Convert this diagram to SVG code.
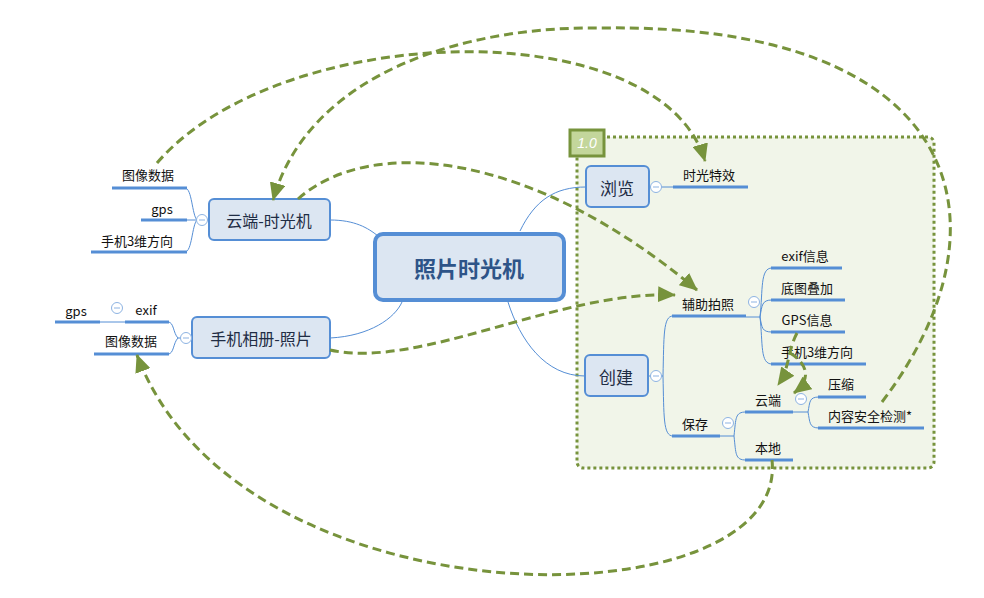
<svg xmlns="http://www.w3.org/2000/svg" width="984" height="598" viewBox="0 0 984 598">
<style>
text{font-family:"Noto Sans CJK SC","Microsoft YaHei",sans-serif;dominant-baseline:central;text-anchor:middle}
.leaf{font-size:13px;fill:#111}
.topic{font-size:16px;fill:#1F2D45}
.box{fill:#DCE6F2;stroke:#558ED5;stroke-width:2}
.ul{stroke:#558ED5;stroke-width:3;fill:none}
.br{stroke:#558ED5;stroke-width:1;fill:none}
.col{fill:#fff;stroke:#8DB3E2;stroke-width:1}
.rel{stroke:#77933C;stroke-width:3;fill:none;stroke-dasharray:9 5}
</style>
<defs>
<marker id="arr" viewBox="0 0 18 16" refX="17" refY="8" markerWidth="18" markerHeight="16" orient="auto" markerUnits="userSpaceOnUse">
<path d="M0,0 L18,8 L0,16 z" fill="#77933C"/>
</marker>
<g id="minus"><circle r="5.5" class="col"/><line x1="-3" y1="0" x2="3" y2="0" stroke="#8DB3E2" stroke-width="1"/></g>
</defs>
<rect width="984" height="598" fill="#fff"/>

<g id="boundary">
<rect x="577" y="137" width="357" height="331" rx="6" fill="#F1F5E9" stroke="#77933C" stroke-width="3" stroke-dasharray="3 3"/>
<rect x="570" y="130" width="34" height="26" fill="#C3D69B" stroke="#77933C" stroke-width="3"/>
<text x="587" y="143" style="font-family:'Liberation Sans',sans-serif;font-size:14px;font-style:italic;fill:#fff">1.0</text>
</g>

<g id="branches">
<path class="br" d="M330,220 C355,220 368,228 378,236"/>
<path class="br" d="M330,338 C370,336 395,318 402,302"/>
<path class="br" d="M520,231 C535,200 555,187 586,187"/>
<path class="br" d="M508,302 C520,340 545,376 585,376"/>
<path class="br" d="M208,220 L197,220 C192,215 192,188 185,188 M197,220 L187,220 M197,220 C192,225 192,252 185,252"/>
<path class="br" d="M192,338 L178,338 C173,333 174,322 168,322 M178,338 C173,343 174,354 168,354"/>
<path class="br" d="M100,322 L125,322"/>
<path class="br" d="M649,187 L673,187"/>
<path class="br" d="M648,376 L663,376 M663,376 C664,336 663,316 673,316 M663,376 C664,416 663,436 673,436"/>
<path class="br" d="M746,317 L760,317 M760,317 C763,290 760,268 772,268 M760,317 C762,305 762,300 772,300 M760,317 C762,328 762,332 772,332 M760,317 C763,344 760,364 772,364"/>
<path class="br" d="M720,436 L734,436 M734,436 C736,418 735,412 746,412 M734,436 C736,454 735,460 746,460"/>
<path class="br" d="M793,412 L808,412 M808,412 C810,402 809,397 819,397 M808,412 C810,422 809,428 819,428"/>
</g>

<g id="central">
<rect x="375" y="234" width="189" height="66" rx="8" fill="#DCE6F2" stroke="#558ED5" stroke-width="4"/>
<text x="469" y="267" style="font-size:22px;font-weight:bold;fill:#2E5488">照片时光机</text>
</g>

<g id="cloud-machine">
<rect class="box" x="209" y="199" width="121" height="41" rx="5"/>
<text class="topic" x="269" y="220">云端-时光机</text>
<use href="#minus" x="202" y="220"/>
</g>
<g id="cloud-img"><text class="leaf" x="148" y="174">图像数据</text><line class="ul" x1="112" y1="188" x2="187" y2="188"/></g>
<g id="cloud-gps"><text class="leaf" x="162" y="208">gps</text><line class="ul" x1="141" y1="220" x2="187" y2="220"/></g>
<g id="cloud-dir"><text class="leaf" x="137" y="240">手机3维方向</text><line class="ul" x1="91" y1="252" x2="187" y2="252"/></g>

<g id="album">
<rect class="box" x="192" y="317" width="138" height="41" rx="5"/>
<text class="topic" x="261" y="338">手机相册-照片</text>
<use href="#minus" x="186" y="338"/>
</g>
<g id="album-exif"><text class="leaf" x="146" y="309">exif</text><line class="ul" x1="125" y1="322" x2="169" y2="322"/><use href="#minus" x="117" y="308"/></g>
<g id="album-gps"><text class="leaf" x="76" y="310">gps</text><line class="ul" x1="55" y1="322" x2="100" y2="322"/></g>
<g id="album-img"><text class="leaf" x="131" y="340">图像数据</text><line class="ul" x1="94" y1="354" x2="169" y2="354"/></g>

<g id="browse">
<rect class="box" x="586" y="166" width="63" height="41" rx="5"/>
<text class="topic" x="617" y="187" style="font-size:17px">浏览</text>
<use href="#minus" x="656" y="187"/>
</g>
<g id="effect"><text class="leaf" x="709" y="174">时光特效</text><line class="ul" x1="673" y1="187" x2="748" y2="187"/></g>

<g id="create">
<rect class="box" x="585" y="355" width="63" height="41" rx="5"/>
<text class="topic" x="616" y="376" style="font-size:17px">创建</text>
<use href="#minus" x="656" y="376"/>
</g>
<g id="assist"><text class="leaf" x="708" y="303">辅助拍照</text><line class="ul" x1="672" y1="316" x2="746" y2="316"/><use href="#minus" x="754" y="302"/></g>
<g id="a-exif"><text class="leaf" x="805" y="255">exif信息</text><line class="ul" x1="771" y1="268" x2="842" y2="268"/></g>
<g id="a-base"><text class="leaf" x="807" y="287">底图叠加</text><line class="ul" x1="771" y1="300" x2="845" y2="300"/></g>
<g id="a-gps"><text class="leaf" x="807" y="319">GPS信息</text><line class="ul" x1="771" y1="332" x2="845" y2="332"/></g>
<g id="a-dir"><text class="leaf" x="817" y="351">手机3维方向</text><line class="ul" x1="771" y1="364" x2="866" y2="364"/></g>
<g id="save"><text class="leaf" x="695" y="423">保存</text><line class="ul" x1="672" y1="436" x2="720" y2="436"/><use href="#minus" x="728" y="423"/></g>
<g id="s-cloud"><text class="leaf" x="768" y="399">云端</text><line class="ul" x1="745" y1="412" x2="793" y2="412"/><use href="#minus" x="801" y="399"/></g>
<g id="s-local"><text class="leaf" x="768" y="447">本地</text><line class="ul" x1="745" y1="460" x2="793" y2="460"/></g>
<g id="c-zip"><text class="leaf" x="841" y="383">压缩</text><line class="ul" x1="818" y1="397" x2="866" y2="397"/></g>
<g id="c-check"><text class="leaf" x="870" y="415">内容安全检测*</text><line class="ul" x1="818" y1="428" x2="924" y2="428"/></g>

<g id="relationships">
<path class="rel" marker-end="url(#arr)" d="M157,163 C280,20 660,10 705,161"/>
<path class="rel" marker-end="url(#arr)" d="M882,402 C1020,220 960,22 600,28 C470,26 310,70 273,200"/>
<path class="rel" marker-end="url(#arr)" d="M298,199 C370,135 530,150 697,290"/>
<path class="rel" marker-end="url(#arr)" d="M330,350 C420,370 560,290 675,295"/>
<path class="rel" marker-end="url(#arr)" d="M772,460 C790,625 240,630 137,355"/>
<path class="rel" marker-end="url(#arr)" d="M797,333 C787,352 790,368 778,385"/>
<path class="rel" marker-end="url(#arr)" d="M790,353 C805,362 814,378 794,393"/>
</g>
</svg>
